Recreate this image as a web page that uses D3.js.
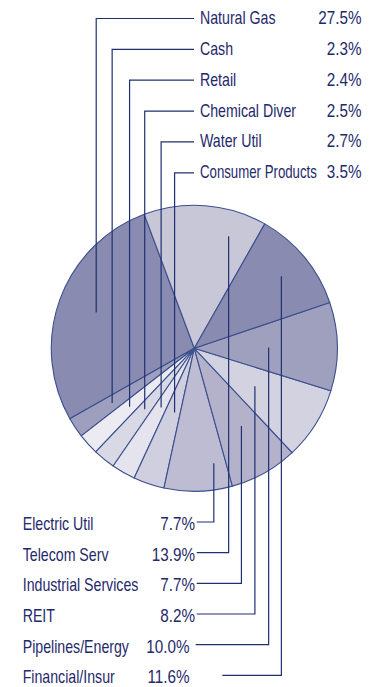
<!DOCTYPE html>
<html>
<head>
<meta charset="utf-8">
<script src="https://cdn.jsdelivr.net/npm/d3@7"></script>
<style>
  html, body { margin: 0; padding: 0; background: #ffffff; }
  svg { display: block; }
  text { font-family: "Liberation Sans", Arial, sans-serif; font-size: 17.5px; fill: #1f2a6b; }
</style>
</head>
<body>
<script>
// Sector weights, in the order the labels are listed
const categories = ["Natural Gas", "Cash", "Retail", "Chemical Diver", "Water Util", "Consumer Products",
                    "Electric Util", "Telecom Serv", "Industrial Services", "REIT", "Pipelines/Energy", "Financial/Insur"];
const weights = [27.5, 2.3, 2.4, 2.5, 2.7, 3.5, 7.7, 13.9, 7.7, 8.2, 10.0, 11.6];
const weightLabels = ["27.5%", "2.3%", "2.4%", "2.5%", "2.7%", "3.5%", "7.7%", "13.9%", "7.7%", "8.2%", "10.0%", "11.6%"];

// Clockwise order of the wedges, starting near twelve o'clock
const wedgeOrder = ["Telecom Serv", "Financial/Insur", "Pipelines/Energy", "REIT", "Industrial Services",
                    "Electric Util", "Consumer Products", "Water Util", "Chemical Diver", "Retail", "Cash", "Natural Gas"];

const fills = {
  "Natural Gas": "#8a8bb0", "Cash": "#9e9fbe", "Retail": "#ecebf1", "Chemical Diver": "#d9d8e5",
  "Water Util": "#e5e4ee", "Consumer Products": "#d0cfdf", "Electric Util": "#bebcd3",
  "Telecom Serv": "#c8c7d8", "Industrial Services": "#b4b2ca", "REIT": "#d3d2e1",
  "Pipelines/Energy": "#9fa0be", "Financial/Insur": "#8a8bb0"
};

// Where each leader line meets its wedge: fraction across the wedge, fraction of the radius
const anchors = {
  "Natural Gas": [0.5, 0.73], "Cash": [0.5, 0.69], "Retail": [0.5, 0.61], "Chemical Diver": [0.5, 0.55],
  "Water Util": [0.45, 0.475], "Consumer Products": [0.38, 0.47], "Electric Util": [0.21, 0.815],
  "Telecom Serv": [0.75, 0.82], "Industrial Services": [0.43, 0.635], "REIT": [0.5, 0.5],
  "Pipelines/Energy": [0.5, 0.52], "Financial/Insur": [0.5, 0.79]
};

const W = 374, H = 687;
const cx = 194.3, cy = 348.3, R = 143;
const startDeg = -20.5;
const nameSquash = 0.81, valueSquash = 0.87;   // condensed lettering

const svg = d3.select("body").append("svg").attr("width", W).attr("height", H);

const deg = Math.PI / 180;
const data = categories.map((c, i) => ({ name: c, value: weights[i], label: weightLabels[i], idx: i }));

const pie = d3.pie()
  .value(d => d.value)
  .sort((a, b) => wedgeOrder.indexOf(a.name) - wedgeOrder.indexOf(b.name))
  .startAngle(startDeg * deg)
  .endAngle(startDeg * deg + 2 * Math.PI);

const arcs = pie(data);
const arc = d3.arc().innerRadius(0).outerRadius(R);

const g = svg.append("g").attr("transform", `translate(${cx},${cy})`);
g.selectAll("path.wedge")
  .data(arcs)
  .join("path")
  .attr("class", "wedge")
  .attr("d", arc)
  .attr("fill", d => fills[d.data.name])
  .attr("stroke", "#3b4f8e")
  .attr("stroke-width", 1.1)
  .attr("stroke-linejoin", "round");

// Label rows: six above the pie, six below
const topRows = categories.slice(0, 6);
const bottomRows = categories.slice(6);

const topY = d3.scalePoint().domain(topRows).range([24, 178.3]);
const bottomY = d3.scalePoint().domain(bottomRows).range([530, 683.3]);

function anchorPoint(a) {
  const [t, rf] = anchors[a.data.name];
  const ang = a.startAngle + t * (a.endAngle - a.startAngle);
  return [cx + Math.sin(ang) * R * rf, cy - Math.cos(ang) * R * rf];
}

// Horizontally condensed text; squeezed further if it would run past maxRight
function condensedText(x, y, str, anchor, sx, maxRight) {
  const t = svg.append("text").attr("text-anchor", anchor).text(str);
  const w = t.node().getComputedTextLength();
  if (maxRight !== undefined && x + w * sx > maxRight) sx = (maxRight - x) / w;
  t.attr("transform", `translate(${x},${y}) scale(${sx},1)`);
  return t;
}

const byName = {};
arcs.forEach(a => { byName[a.data.name] = a; });

const leaders = svg.append("g")
  .attr("fill", "none")
  .attr("stroke", "#1f3070")
  .attr("stroke-width", 1.2);

// Upper labels: name at x=200, value right-aligned
const nameX = 200, valueRight = 361.5;
topRows.forEach(name => {
  const d = data[categories.indexOf(name)];
  const yb = topY(name);
  const ly = yb - 5.5;
  const [ax, ay] = anchorPoint(byName[name]);
  leaders.append("path").attr("d", `M${nameX - 6},${ly}H${ax}V${ay}`);
  condensedText(nameX, yb, name, "start", nameSquash, 317);
  condensedText(valueRight, yb, d.label, "end", valueSquash);
});

// Lower labels: name at x=22.7, value right-aligned next to the leader
const lowNameX = 22.7;
bottomRows.forEach((name, i) => {
  const d = data[categories.indexOf(name)];
  const yb = bottomY(name);
  const ly = yb - 8;
  const vRight = i < 4 ? 195 : 189.5;
  const lineStart = i < 4 ? 196.7 : (i === 4 ? 195.7 : 222.3);
  const [ax, ay] = anchorPoint(byName[name]);
  leaders.append("path").attr("d", `M${lineStart},${ly}H${ax}V${ay}`);
  condensedText(lowNameX, yb, name, "start", nameSquash, 143);
  condensedText(vRight, yb, d.label, "end", valueSquash);
});
</script>
</body>
</html>
